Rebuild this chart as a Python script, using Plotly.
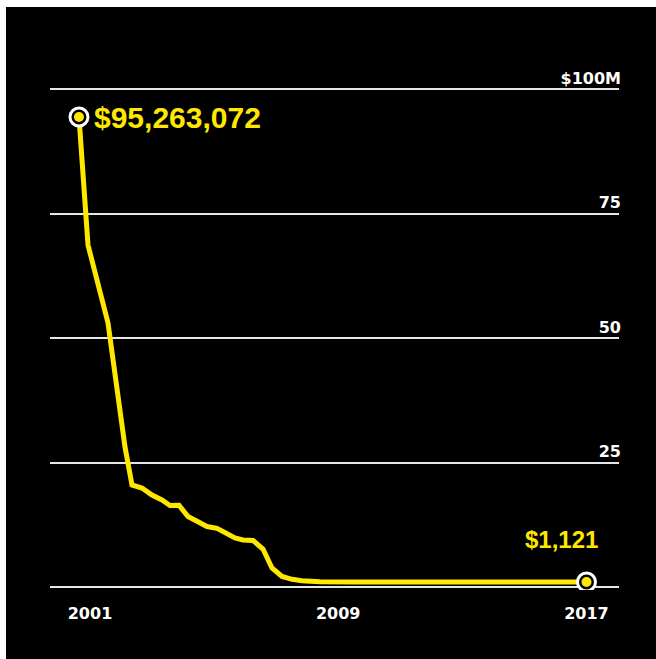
import plotly.graph_objects as go

# Data (values in $ millions), x in decimal years
years = [2000.645, 2000.936, 2001.580, 2002.128, 2002.354, 2002.676, 2002.998, 2003.320,
         2003.578, 2003.868, 2004.158, 2004.481, 2004.771, 2005.093, 2005.415, 2005.673,
         2005.931, 2006.253, 2006.575, 2006.865, 2007.188, 2007.510, 2007.832, 2008.412,
         2009.5, 2017.0]
values = [95.263072, 69.04, 53.06, 27.66, 19.87, 19.26, 17.82, 16.80,
          15.67, 15.72, 13.42, 12.19, 11.37, 11.00, 10.04, 9.01,
          8.60, 8.50, 6.76, 2.87, 1.13, 0.55, 0.27, 0.06,
          0.02, 0.001121]
start_label = "$95,263,072"
end_label = "$1,121"
x_tickvals = [2001, 2009, 2017]
x_ticktext = ["2001", "2009", "2017"]
grid_vals = [0, 25, 50, 75, 100]
y_tickvals = [25, 50, 75, 100]
y_ticktext = ["25", "50", "75", "$100M"]

YELLOW = "#FFE800"
W, H = 656, 659
L, R, T, B = 50, 37, 64, 69
Y_RANGE = [-0.602, 105.02]

fig = go.Figure()
# empty traces so the grid axis and the label axis are drawn
fig.add_trace(go.Scatter(x=[], y=[], mode="lines", yaxis="y", hoverinfo="skip"))
fig.add_trace(go.Scatter(x=[], y=[], mode="lines", yaxis="y3", hoverinfo="skip"))
fig.add_trace(go.Scatter(x=years, y=values, mode="lines", yaxis="y2",
                         line=dict(color=YELLOW, width=5), hoverinfo="skip"))
ends_x = [years[0], years[-1]]
ends_y = [values[0], values[-1]]
fig.add_trace(go.Scatter(x=ends_x, y=ends_y, mode="markers", yaxis="y2",
                         marker=dict(size=18, color="black", line=dict(color="white", width=3)),
                         hoverinfo="skip"))
fig.add_trace(go.Scatter(x=ends_x, y=ends_y, mode="markers", yaxis="y2",
                         marker=dict(size=10, color=YELLOW), hoverinfo="skip"))

pw = W - L - R
ph = H - T - B
# white page border on the left and top
fig.add_shape(type="rect", xref="paper", yref="paper", layer="above",
              x0=-L / pw, x1=(6 - L) / pw, y0=(H - B - H) / ph, y1=(H - B) / ph,
              fillcolor="white", line=dict(width=0))
fig.add_shape(type="rect", xref="paper", yref="paper", layer="above",
              x0=-L / pw, x1=(W - L) / pw, y0=(H - B - 7) / ph, y1=(H - B) / ph,
              fillcolor="white", line=dict(width=0))

fig.add_annotation(x=years[0], y=values[0], xref="x", yref="y2", text=start_label,
                   showarrow=False, xanchor="left", yanchor="middle", xshift=13, yshift=0,
                   font=dict(family="Liberation Sans", size=30, color=YELLOW, weight="bold"))
fig.add_annotation(x=years[-1], y=values[-1], xref="x", yref="y2", text=end_label,
                   showarrow=False, xanchor="right", yanchor="middle", xshift=14, yshift=42,
                   font=dict(family="Liberation Sans", size=24, color=YELLOW, weight="bold"))

axis_font = dict(family="DejaVu Sans", size=16, color="white", weight="bold")
fig.update_layout(
    width=W, height=H, margin=dict(l=L, r=R, t=T, b=B),
    paper_bgcolor="black", plot_bgcolor="black", showlegend=False,
    xaxis=dict(range=[1999.711, 2018.048], tickvals=x_tickvals, ticktext=x_ticktext,
               showgrid=False, zeroline=False, showline=False, ticks="outside",
               ticklen=9, tickcolor="rgba(0,0,0,0)", tickfont=axis_font),
    yaxis=dict(range=Y_RANGE, tickvals=grid_vals, showticklabels=False,
               showgrid=True, gridcolor="#e6e6e6", gridwidth=1.5,
               zeroline=False, showline=False, ticks=""),
    yaxis3=dict(range=Y_RANGE, tickvals=y_tickvals, ticktext=y_ticktext,
                overlaying="y", anchor="free", position=1, side="left",
                ticklabelposition="outside", ticklabelshift=-11, ticklabelstandoff=-2,
                showgrid=False, zeroline=False, showline=False, ticks="",
                tickfont=axis_font),
    yaxis2=dict(range=[-1.639, 106.12], overlaying="y", visible=False, showgrid=False),
)

fig.write_html("out.html", config={"displayModeBar": False},
               post_script="document.body.style.margin='0';document.body.style.overflow='hidden';")
